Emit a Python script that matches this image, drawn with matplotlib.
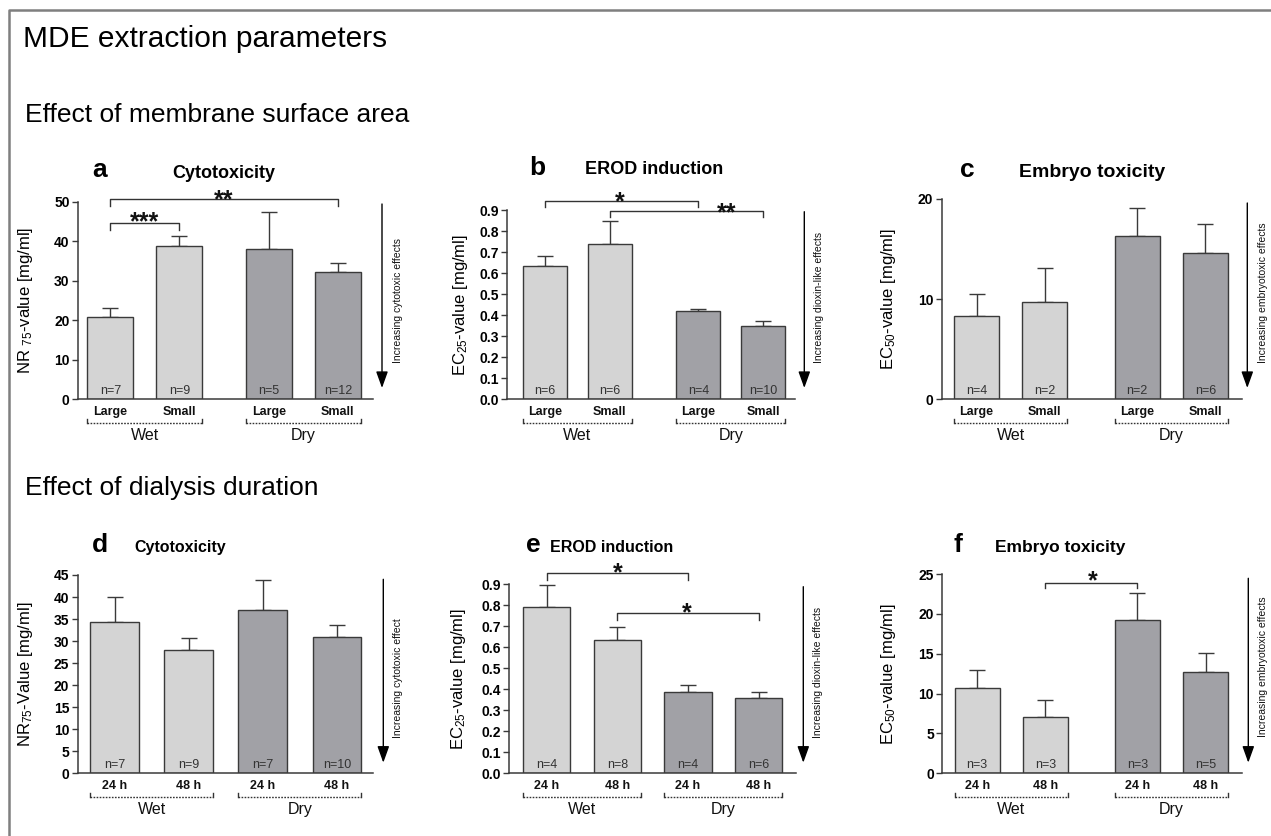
import matplotlib
matplotlib.use("Agg")
import matplotlib.pyplot as plt
import matplotlib.transforms as mtransforms
from matplotlib.patches import FancyArrowPatch
from matplotlib.lines import Line2D

plt.rcParams['font.family'] = ['Liberation Sans', 'DejaVu Sans']
plt.rcParams['mathtext.fontset'] = 'custom'
plt.rcParams['mathtext.rm'] = 'Liberation Sans'
plt.rcParams['mathtext.it'] = 'Liberation Sans:italic'
plt.rcParams['mathtext.bf'] = 'Liberation Sans:bold'

# ---------------- data ----------------
groups = ["Wet", "Dry"]
cats_size = ["Large", "Small", "Large", "Small"]
cats_time = ["24 h", "48 h", "24 h", "48 h"]

a_mean = [20.7, 38.8, 38.0, 32.1]
a_err = [2.5, 2.5, 9.3, 2.5]
a_n = [7, 9, 5, 12]

b_mean = [0.635, 0.737, 0.420, 0.349]
b_err = [0.046, 0.111, 0.008, 0.025]
b_n = [6, 6, 4, 10]

c_mean = [8.31, 9.68, 16.33, 14.63]
c_err = [2.17, 3.45, 2.79, 2.84]
c_n = [4, 2, 2, 6]

d_mean = [34.4, 28.0, 37.1, 31.0]
d_err = [5.7, 2.6, 6.8, 2.7]
d_n = [7, 9, 7, 10]

e_mean = [0.792, 0.634, 0.388, 0.357]
e_err = [0.103, 0.063, 0.032, 0.031]
e_n = [4, 8, 4, 6]

f_mean = [10.66, 7.10, 19.23, 12.75]
f_err = [2.30, 2.10, 3.35, 2.31]
f_n = [3, 3, 3, 5]

# significance: (bar i, bar j, bracket level, tick end level, label, label x, label y)
a_sig = [(0, 1, 44.7, 42.9, "***", 0.5, 46.7), (0, 3, 50.7, 48.9, "**", 1.65, 52.3)]
b_sig = [(0, 2, 0.944, 0.913, "*", 1.15, 0.972), (1, 3, 0.897, 0.868, "**", 2.8, 0.918)]
c_sig = []
d_sig = []
e_sig = [(0, 2, 0.951, 0.919, "*", 1.0, 0.985), (1, 3, 0.764, 0.729, "*", 1.98, 0.795)]
f_sig = [(1, 2, 23.84, 23.2, "*", 1.7, 25.0)]

# ---------------- styling ----------------
W, H = 1271, 836
fig = plt.figure(figsize=(W / 100, H / 100), dpi=100)

LIGHT = '#d4d4d4'
DARK = '#a1a1a6'
EDGE = '#3a3a3a'
bar_colors = [LIGHT, LIGHT, DARK, DARK]


def fx(x):
    return x / W


def fy(y):
    return 1 - y / H


def panel(rect, xlim, pos, width, means, errs, ns, cats, ylim, yticks, fmt,
          ylabel, ylabel_x, sig, letter, letter_xy, title, title_xy, title_fs,
          arrow_x, arrow_y0, arrow_y1, arrow_text, text_x, text_y):
    l, t, r, b = rect
    ax = fig.add_axes([fx(l), fy(b), fx(r) - fx(l), fy(t) - fy(b)])
    ax.bar(pos, means, width, color=bar_colors, edgecolor=EDGE, linewidth=1.0, zorder=2)
    ax.errorbar(pos, means, yerr=[[0] * len(means), errs], fmt='none', ecolor=EDGE,
                elinewidth=1.0, capsize=6, capthick=1.0, zorder=1)
    ax.set_xlim(*xlim)
    ax.set_ylim(*ylim)
    ax.set_yticks(yticks)
    ax.set_yticklabels([fmt.format(v) for v in yticks], fontsize=10, fontweight='bold')
    ax.set_xticks([])
    for s in ['top', 'right']:
        ax.spines[s].set_visible(False)
    for s in ['left', 'bottom']:
        ax.spines[s].set_color(EDGE)
        ax.spines[s].set_linewidth(1.1)
    ax.tick_params(axis='y', direction='out', length=4, width=1, color=EDGE, pad=2)
    ax.set_facecolor('none')

    # n labels and category labels
    for p, n, c in zip(pos, ns, cats):
        ax.annotate(f"n={n}", xy=(p, 0), xycoords=('data', 'axes fraction'),
                    xytext=(0, 6.2), textcoords='offset points', ha='center', va='center',
                    fontsize=9, color='#333333')
        ax.annotate(c, xy=(p, 0), xycoords=('data', 'axes fraction'),
                    xytext=(0, -8.9), textcoords='offset points', ha='center', va='center',
                    fontsize=9, fontweight='bold', color='#111111')
    # group brackets (x in data, y in figure fraction)
    btrans = mtransforms.blended_transform_factory(ax.transData, fig.transFigure)
    for g, (i, j) in zip(groups, [(0, 1), (2, 3)]):
        x0 = pos[i] - width / 2
        x1 = pos[j] + width / 2
        ax.add_line(Line2D([x0, x1], [fy(b + 23.6), fy(b + 23.6)], transform=btrans,
                           color='#333333', lw=1.0, ls=(0, (1.2, 1.0)), clip_on=False))
        for xe in (x0, x1):
            ax.add_line(Line2D([xe, xe], [fy(b + 23.6), fy(b + 19.5)], transform=btrans,
                               color='#333333', lw=1.0, clip_on=False))
        ax.annotate(g, xy=((x0 + x1) / 2, 0), xycoords=('data', 'axes fraction'),
                    xytext=(0, -26.4), textcoords='offset points', ha='center', va='center',
                    fontsize=11.5, color='#111111')
    # significance brackets
    for i, j, lev, tip, lab, lx, ly in sig:
        ax.plot([pos[i], pos[i], pos[j], pos[j]], [tip, lev, lev, tip], color='#333333',
                lw=1.0, clip_on=False)
        ax.annotate(lab, xy=(lx, ly), xytext=(0, -0.575 * 18), textcoords='offset points',
                    ha='center', va='baseline', fontsize=18, fontweight='bold', color='#111111',
                    annotation_clip=False)

    ax.set_ylabel(ylabel, fontsize=12)
    ax.yaxis.set_label_coords((ylabel_x - l) / (r - l), 0.5)

    fig.text(fx(letter_xy[0]), fy(letter_xy[1]), letter, fontsize=19, fontweight='bold',
             ha='center', va='baseline')
    fig.text(fx(title_xy[0]), fy(title_xy[1]), title, fontsize=title_fs, fontweight='bold',
             ha='center', va='baseline')

    arr = FancyArrowPatch((fx(arrow_x), fy(arrow_y0)), (fx(arrow_x), fy(arrow_y1)),
                          transform=fig.transFigure, arrowstyle='-|>,head_length=10,head_width=3.6',
                          mutation_scale=1, color='black', lw=1.0, shrinkA=0, shrinkB=0)
    fig.add_artist(arr)
    fig.text(fx(text_x), fy(text_y), arrow_text, rotation=90, fontsize=7.5, ha='center',
             va='bottom', color='#111111')
    return ax


pos_a = [0, 1, 2.3, 3.3]
pos_b = [0, 1, 2.37, 3.37]
pos_c = [0, 1, 2.35, 3.35]
pos_d = [0, 1, 2, 3]

panel((78, 201.7, 373, 399.3), (-0.47, 3.81), pos_a, 0.67, a_mean, a_err, a_n, cats_size,
      (0, 50), [0, 10, 20, 30, 40, 50], "{:.0f}", r"NR $_{75}$-value [mg/ml]", 35, a_sig,
      "a", (100, 177), "Cytotoxicity", (224, 178), 13, 382, 204, 388,
      "Increasing cytotoxic effects", 398, 363)

panel((507.3, 210, 795, 399.3), (-0.58, 3.86), pos_b, 0.68, b_mean, b_err, b_n, cats_size,
      (0, 0.9), [0, 0.1, 0.2, 0.3, 0.4, 0.5, 0.6, 0.7, 0.8, 0.9], "{:.1f}",
      r"EC$_{25}$-value [mg/ml]", 470, b_sig,
      "b", (537, 175), "EROD induction", (654, 174), 13, 804.3, 211.7, 388,
      "Increasing dioxin-like effects", 819, 363)

panel((941.7, 199, 1241.7, 399.3), (-0.51, 3.88), pos_c, 0.66, c_mean, c_err, c_n, cats_size,
      (0, 20), [0, 10, 20], "{:.0f}", r"EC$_{50}$-value [mg/ml]", 898, c_sig,
      "c", (967, 177), "Embryo toxicity", (1092, 177), 14, 1247.3, 203, 388,
      "Increasing embryotoxic effects", 1263, 363)

panel((77.7, 575, 373.3, 773.3), (-0.5, 3.49), pos_d, 0.66, d_mean, d_err, d_n, cats_time,
      (0, 45), [0, 5, 10, 15, 20, 25, 30, 35, 40, 45], "{:.0f}", r"NR$_{75}$-Value [mg/ml]", 35, d_sig,
      "d", (100, 552), "Cytotoxicity", (180, 552), 11.5, 383.3, 579.3, 762.7,
      "Increasing cytotoxic effect", 398, 738)

panel((509.3, 584, 796, 773.3), (-0.53, 3.53), pos_d, 0.67, e_mean, e_err, e_n, cats_time,
      (0, 0.9), [0, 0.1, 0.2, 0.3, 0.4, 0.5, 0.6, 0.7, 0.8, 0.9], "{:.1f}",
      r"EC$_{25}$-value [mg/ml]", 468, e_sig,
      "e", (533, 552), "EROD induction", (612, 552), 11.5, 803.3, 586.7, 762.7,
      "Increasing dioxin-like effects", 818, 738)

panel((942.3, 574, 1241.7, 773.3), (-0.51, 3.88), pos_c, 0.66, f_mean, f_err, f_n, cats_time,
      (0, 25), [0, 5, 10, 15, 20, 25], "{:.0f}", r"EC$_{50}$-value [mg/ml]", 898, f_sig,
      "f", (958, 552), "Embryo toxicity", (1060, 552), 12.5, 1248.3, 578.3, 762.7,
      "Increasing embryotoxic effects", 1263, 737)

# headings
fig.text(fx(23), fy(47), "MDE extraction parameters", fontsize=21.5, ha='left', va='baseline')
fig.text(fx(25), fy(121.5), "Effect of membrane surface area", fontsize=19, ha='left', va='baseline')
fig.text(fx(25), fy(495), "Effect of dialysis duration", fontsize=19, ha='left', va='baseline')

# frame
fig.add_artist(Line2D([fx(9), fx(9), fx(1271)], [fy(836), fy(9.5), fy(9.5)],
                      transform=fig.transFigure, color='#7f7f7f', lw=1.8))

fig.savefig("out.png", dpi=100)
